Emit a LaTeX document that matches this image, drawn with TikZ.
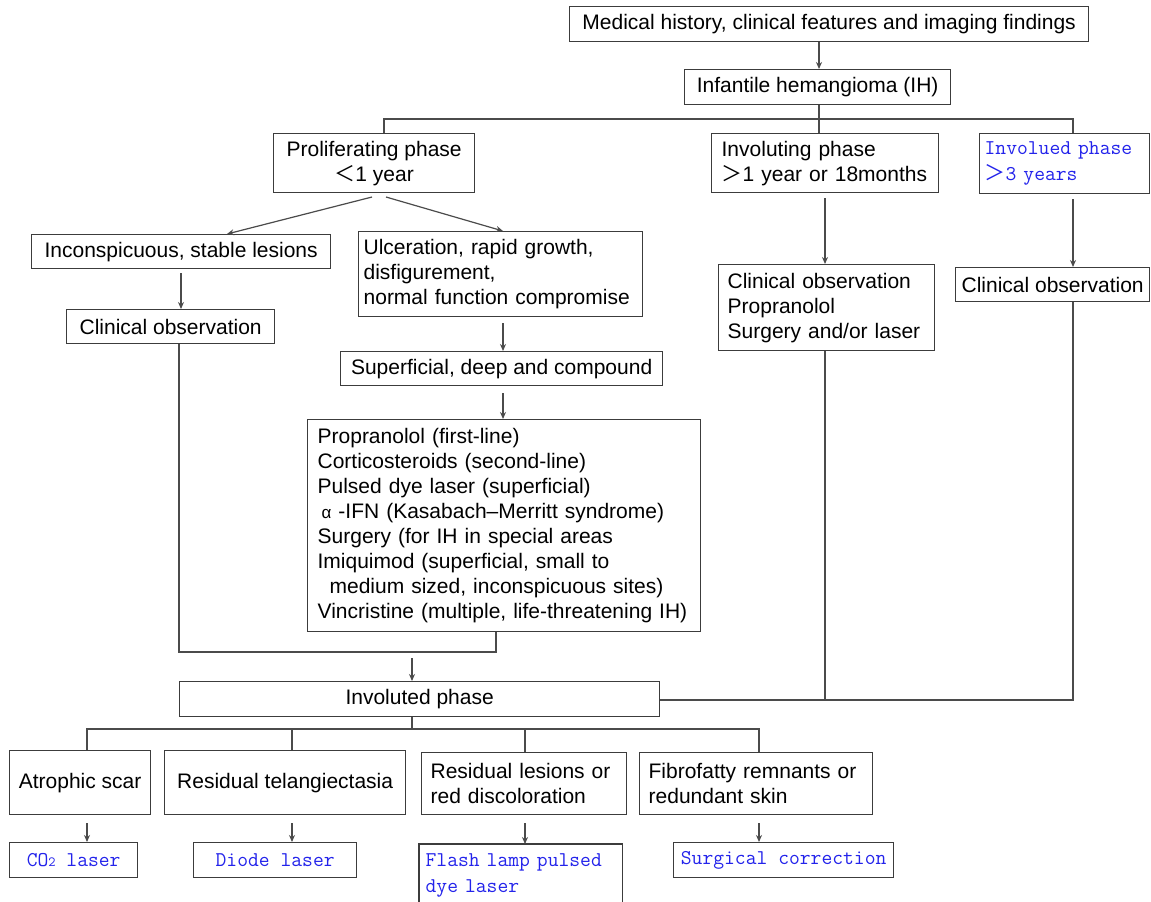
\documentclass[tikz,border=0pt]{standalone}
\usepackage{fontspec}
\setmainfont{Liberation Sans}
\newfontfamily\cjk{Noto Sans CJK SC}
\usetikzlibrary{arrows.meta,calc}
\definecolor{lc}{RGB}{75,75,75}
\definecolor{bc}{RGB}{60,60,60}
\definecolor{blu}{RGB}{35,35,235}
\begin{document}
\begin{tikzpicture}[x=1pt,y=-1pt,
  box/.style={draw=bc, line width=1.3pt, inner sep=0pt, anchor=north west,
    font=\fontsize{21}{25}\selectfont, text=black},
  lbox/.style={box, align=left},
  cbox/.style={box, align=center},
  bluet/.style={font=\ttfamily\fontsize{21}{25.5}\selectfont, text=blu},
  conn/.style={draw=lc, line width=1.2pt},
  arr/.style={conn, -{Stealth[length=7pt,width=6pt]}}]
\fill[white] (0,0) rectangle (1151,902);
\useasboundingbox (0,0) rectangle (1151,902);

% nodes
\node[cbox, minimum width=519pt, minimum height=35pt] (top) at (569,6) {Medical history, clinical features and imaging findings};
\node[cbox, minimum width=266pt, minimum height=35pt] (ih) at (684,69) {Infantile hemangioma (IH)};
\node[cbox, minimum width=201pt, minimum height=59pt] (prolif) at (273,133) {Proliferating phase\\{\cjk ＜}1 year};
\node[lbox, minimum width=227pt, minimum height=59pt, text width=207pt, inner xsep=10pt] (involuting) at (711,133) {Involuting phase\\{\cjk ＞}1 year or 18months};
\node[lbox, bluet, minimum width=170pt, minimum height=60pt, text width=160pt, inner xsep=5pt] (involved) at (979,133) {Involued phase\\{\cjk ＞}3 years};
\node[cbox, minimum width=299pt, minimum height=34pt] (inconsp) at (31,234) {Inconspicuous, stable lesions};
\node[lbox, minimum width=284pt, minimum height=85pt, text width=274pt, inner xsep=5pt] (ulcer) at (358,231) {Ulceration, rapid growth,\\disfigurement,\\normal function compromise};
\node[cbox, minimum width=208pt, minimum height=34pt] (clinL) at (66,309) {Clinical observation};
\node[cbox, minimum width=322pt, minimum height=34pt] (superf) at (340,351) {Superficial, deep and compound};
\node[lbox, minimum width=393pt, minimum height=212pt, text width=373pt, inner xsep=10pt] (treat) at (307,419) {Propranolol (first-line)\\Corticosteroids (second-line)\\Pulsed dye laser (superficial)\\\hspace*{4pt}{\fontsize{17}{17}\selectfont α} -IFN (Kasabach--Merritt syndrome)\\Surgery (for IH in special areas\\Imiquimod (superficial, small to\\\hspace*{12pt}medium sized, inconspicuous sites)\\Vincristine (multiple, life-threatening IH)};
\node[lbox, minimum width=216pt, minimum height=86pt, text width=198pt, inner xsep=9pt] (clinM) at (718,264) {Clinical observation\\Propranolol\\Surgery and/or laser};
\node[cbox, minimum width=194pt, minimum height=34pt] (clinR) at (955,267) {Clinical observation};
\node[cbox, minimum width=480pt, minimum height=35pt] (invd) at (179,681) {Involuted phase};
\node[cbox, minimum width=141pt, minimum height=64pt] (atro) at (9,750) {Atrophic scar};
\node[cbox, minimum width=241pt, minimum height=64pt] (resT) at (164,750) {Residual telangiectasia};
\node[lbox, minimum width=205pt, minimum height=62pt, text width=187pt, inner xsep=9pt] (resL) at (421,752) {Residual lesions or\\red discoloration};
\node[lbox, minimum width=233pt, minimum height=62pt, text width=215pt, inner xsep=9pt] (fibro) at (639,752) {Fibrofatty remnants or\\redundant skin};
\node[cbox, bluet, minimum width=128pt, minimum height=35pt] (co2) at (9,842) {CO{\fontsize{14}{14}\selectfont 2} laser};
\node[cbox, bluet, minimum width=163pt, minimum height=35pt] (diode) at (193,842) {Diode laser};
\node[lbox, bluet, draw=none, minimum width=202pt, minimum height=62pt, text width=190pt, inner xsep=6pt] (flash) at (419,844) {Flash lamp pulsed\\dye laser};
\node[cbox, bluet, minimum width=220pt, minimum height=35pt] (surg) at (673,842) {Surgical correction};
\draw[draw=bc, line width=1.3pt] (flash.south west) -- (flash.north west) -- (flash.north east) -- (flash.south east);

% helper coordinates
\coordinate (bus) at (819,119);
\coordinate (xP) at (384,0);
\coordinate (xR) at (1073,0);
\coordinate (xM) at (825,0);
\coordinate (pL) at (372,197);
\coordinate (pR) at (386,197);
\coordinate (xIn) at (227,0);
\coordinate (xUl) at (503,0);
\coordinate (xL) at (181,0);
\coordinate (xS) at (503,0);
\coordinate (xT) at (496,0);
\coordinate (xI) at (412,0);
\coordinate (lowL) at (179,652);
\coordinate (jIn) at (412,658);
\coordinate (jR) at (1073,700);
\coordinate (bbus) at (412,729);
\coordinate (x1) at (87,0);
\coordinate (x2) at (292,0);
\coordinate (x3) at (525,0);
\coordinate (x4) at (759,0);

% connectors
\draw[arr] (top.south -| bus) -- (ih.north -| bus);
\draw[conn] (ih.south -| bus) -- (involuting.north -| bus);
\draw[conn] (prolif.north -| xP) |- (bus) -| (involved.north -| xR);
\draw[arr] (pL) -- (inconsp.north -| xIn);
\draw[arr] (pR) -- (ulcer.north -| xUl);
\draw[arr] ([yshift=-4pt]inconsp.south -| xL) -- (clinL.north -| xL);
\draw[arr] ([yshift=-6pt]ulcer.south -| xS) -- (superf.north -| xS);
\draw[arr] ([yshift=-7pt]superf.south -| xS) -- (treat.north -| xS);
\draw[arr] ([yshift=-5pt]involuting.south -| xM) -- (clinM.north -| xM);
\draw[arr] ([yshift=-5pt]involved.south -| xR) -- (clinR.north -| xR);
\draw[conn] (clinL.south -| lowL) -- (lowL) -| (treat.south -| xT);
\draw[arr] (jIn) -- (invd.north -| xI);
\draw[conn] (clinM.south -| xM) -- (jR -| xM);
\draw[conn] (clinR.south -| xR) -- (jR) -- (invd.east |- jR);
\draw[conn] (invd.south -| xI) -- (bbus);
\draw[conn] (atro.north -| x1) |- (bbus) -| (fibro.north -| x4);
\draw[conn] (resT.north -| x2) -- (bbus -| x2);
\draw[conn] (resL.north -| x3) -- (bbus -| x3);
\draw[arr] ([yshift=-8pt]atro.south -| x1) -- (co2.north -| x1);
\draw[arr] ([yshift=-8pt]resT.south -| x2) -- (diode.north -| x2);
\draw[arr] ([yshift=-8pt]resL.south -| x3) -- (flash.north -| x3);
\draw[arr] ([yshift=-8pt]fibro.south -| x4) -- (surg.north -| x4);
\end{tikzpicture}
\end{document}
